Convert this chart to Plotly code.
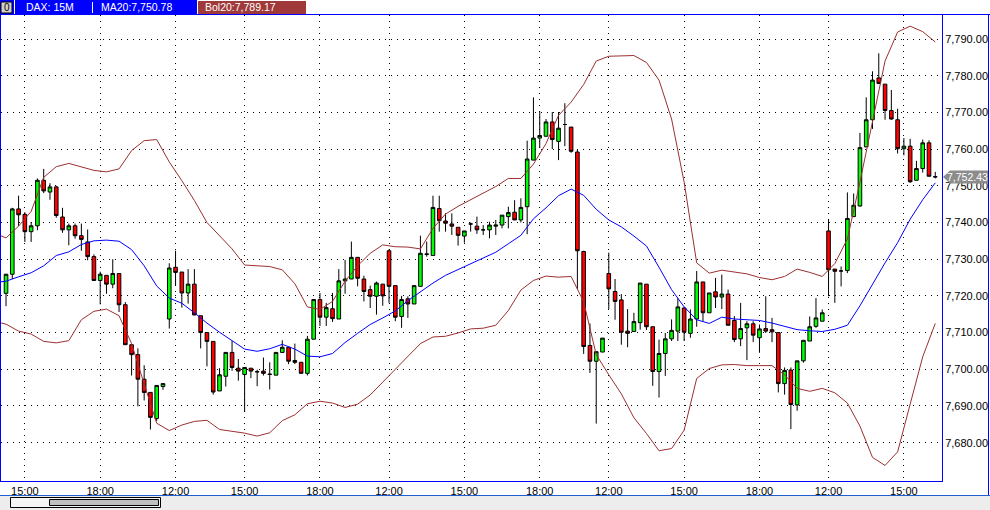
import plotly.graph_objects as go

# ---------------- data ----------------
bar_index = list(range(149))

opens = [7720.7, 7725.9, 7743.7, 7742.2, 7737.5, 7739.1, 7751.5, 7748.3, 7749.7, 7741.5,
         7738.0, 7739.1, 7736.4, 7734.7, 7730.7, 7724.2, 7725.6, 7723.2, 7726.1, 7717.6,
         7706.7, 7704.0, 7697.3, 7693.7, 7686.6, 7695.3, 7713.7, 7727.8, 7726.5, 7720.8,
         7723.2, 7714.6, 7710.0, 7707.6, 7694.1, 7698.1, 7704.6, 7700.3, 7698.6, 7700.3,
         7699.4, 7699.5, 7698.7, 7698.4, 7704.6, 7706.0, 7702.4, 7701.9, 7698.9, 7708.2,
         7719.0, 7714.2, 7716.5, 7713.7, 7724.1, 7724.6, 7730.5, 7724.6, 7721.7, 7719.9,
         7723.2, 7732.3, 7722.8, 7714.4, 7719.2, 7717.8, 7722.6, 7731.3, 7731.0, 7743.8,
         7740.4, 7739.6, 7738.7, 7736.3, 7739.6, 7739.0, 7738.0, 7738.0, 7739.0, 7739.3,
         7741.6, 7742.8, 7740.7, 7744.3, 7757.0, 7763.0, 7763.5, 7767.4, 7762.1, 7766.7,
         7766.0, 7759.2, 7732.1, 7706.5, 7702.2, 7704.7, 7726.1, 7721.2, 7718.9, 7710.4,
         7710.3, 7712.7, 7723.2, 7711.6, 7699.4, 7704.3, 7708.3, 7710.4, 7716.7, 7709.8,
         7713.7, 7723.8, 7715.4, 7721.1, 7719.7, 7720.5, 7713.3, 7708.3, 7711.3, 7712.4,
         7708.6, 7711.1, 7710.8, 7710.0, 7696.1, 7699.8, 7690.3, 7702.3, 7707.7, 7711.7,
         7713.1, 7737.7, 7727.3, 7726.8, 7726.9, 7741.6, 7744.5, 7760.6, 7768.0, 7779.4,
         7777.7, 7770.5, 7768.0, 7760.1, 7760.8, 7751.5, 7754.7, 7761.7, 7752.5]
highs = [7726.0, 7744.0, 7747.3, 7742.8, 7740.1, 7752.0, 7754.6, 7750.7, 7750.0, 7744.0,
         7739.7, 7739.7, 7739.7, 7738.1, 7731.3, 7726.6, 7725.6, 7730.0, 7726.1, 7718.3,
         7706.7, 7705.7, 7701.1, 7693.7, 7695.6, 7696.1, 7728.9, 7732.3, 7726.5, 7727.3,
         7727.3, 7714.6, 7710.0, 7707.6, 7700.3, 7704.6, 7707.7, 7702.8, 7700.5, 7700.3,
         7699.9, 7703.2, 7701.9, 7704.6, 7707.9, 7706.0, 7707.0, 7702.0, 7709.1, 7719.0,
         7720.8, 7718.1, 7720.8, 7727.3, 7729.8, 7734.8, 7730.5, 7725.5, 7722.8, 7723.9,
         7723.2, 7732.7, 7722.8, 7720.0, 7719.9, 7722.8, 7736.4, 7734.8, 7747.3, 7747.3,
         7742.5, 7742.5, 7738.7, 7737.7, 7740.0, 7741.6, 7739.3, 7740.2, 7740.7, 7742.0,
         7744.3, 7746.1, 7746.6, 7762.3, 7774.1, 7770.3, 7768.2, 7770.1, 7770.1, 7772.5,
         7766.0, 7759.9, 7732.3, 7712.5, 7704.8, 7708.5, 7731.8, 7724.6, 7720.5, 7716.4,
         7715.4, 7723.5, 7723.2, 7711.6, 7708.1, 7709.9, 7713.6, 7719.4, 7717.0, 7716.3,
         7726.8, 7723.8, 7720.8, 7724.9, 7725.8, 7721.7, 7714.5, 7718.1, 7713.1, 7713.1,
         7712.2, 7719.9, 7714.0, 7710.0, 7700.5, 7700.5, 7702.3, 7707.9, 7714.4, 7719.4,
         7716.3, 7740.8, 7727.3, 7728.0, 7748.2, 7747.9, 7764.4, 7774.1, 7781.2, 7786.1,
         7777.7, 7776.1, 7771.0, 7763.0, 7762.8, 7756.8, 7762.6, 7762.4, 7753.8]
lows = [7717.2, 7724.6, 7739.0, 7734.7, 7734.7, 7737.9, 7748.0, 7746.2, 7741.3, 7737.2,
        7733.8, 7735.6, 7732.3, 7729.7, 7724.2, 7717.7, 7720.6, 7722.1, 7715.6, 7706.7,
        7698.3, 7689.9, 7691.5, 7683.6, 7685.9, 7694.4, 7711.1, 7722.8, 7716.8, 7717.9,
        7714.8, 7705.7, 7700.8, 7693.1, 7694.1, 7695.3, 7699.6, 7696.9, 7688.4, 7697.6,
        7695.4, 7698.3, 7694.5, 7698.4, 7704.6, 7701.4, 7701.4, 7698.9, 7698.3, 7708.2,
        7711.8, 7711.8, 7712.9, 7713.7, 7720.6, 7724.6, 7722.6, 7718.5, 7716.7, 7714.9,
        7717.3, 7718.1, 7713.1, 7711.3, 7714.0, 7717.8, 7722.6, 7730.7, 7731.0, 7737.5,
        7737.5, 7736.6, 7733.7, 7734.5, 7737.5, 7736.9, 7736.6, 7735.7, 7736.6, 7738.4,
        7738.4, 7740.7, 7740.0, 7736.8, 7757.0, 7760.3, 7763.5, 7760.0, 7757.0, 7760.8,
        7759.0, 7721.9, 7704.2, 7699.0, 7685.2, 7704.7, 7716.4, 7713.5, 7706.7, 7706.0,
        7710.3, 7710.8, 7710.7, 7695.5, 7692.3, 7698.2, 7707.7, 7707.7, 7707.7, 7708.6,
        7711.6, 7713.1, 7715.4, 7716.7, 7716.4, 7712.0, 7707.4, 7706.3, 7702.5, 7707.4,
        7704.5, 7709.9, 7707.4, 7693.7, 7693.1, 7683.7, 7688.7, 7701.8, 7707.7, 7711.3,
        7713.1, 7719.9, 7718.1, 7722.6, 7726.2, 7741.6, 7744.3, 7760.6, 7765.5, 7777.7,
        7768.0, 7768.0, 7758.8, 7758.3, 7750.8, 7751.5, 7753.6, 7752.6, 7752.0]
closes = [7725.9, 7743.7, 7742.1, 7737.5, 7739.1, 7751.5, 7748.6, 7749.7, 7741.9, 7738.0,
          7739.1, 7736.4, 7735.4, 7730.7, 7724.2, 7725.9, 7723.2, 7726.1, 7717.6, 7706.7,
          7704.0, 7697.3, 7693.7, 7686.9, 7695.6, 7696.1, 7727.6, 7726.4, 7720.8, 7723.2,
          7714.8, 7710.0, 7707.6, 7693.8, 7698.5, 7704.6, 7700.5, 7699.5, 7700.5, 7699.5,
          7699.3, 7698.9, 7698.6, 7704.6, 7706.0, 7702.2, 7701.9, 7698.9, 7708.2, 7719.0,
          7714.2, 7716.8, 7713.8, 7724.1, 7724.6, 7730.5, 7724.8, 7721.2, 7719.9, 7723.5,
          7720.0, 7722.6, 7714.2, 7719.0, 7717.8, 7722.8, 7731.6, 7731.4, 7744.1, 7740.5,
          7739.8, 7739.0, 7736.5, 7737.7, 7739.6, 7738.0, 7738.0, 7739.3, 7739.3, 7742.0,
          7742.7, 7740.7, 7744.1, 7757.3, 7763.0, 7763.7, 7767.4, 7762.6, 7765.7, 7766.7,
          7759.4, 7732.3, 7706.2, 7702.2, 7704.8, 7708.5, 7721.9, 7718.5, 7710.1, 7709.8,
          7713.0, 7723.5, 7711.6, 7699.4, 7704.3, 7708.3, 7710.6, 7717.0, 7710.1, 7713.7,
          7723.8, 7715.4, 7720.8, 7719.7, 7720.5, 7712.0, 7708.1, 7711.1, 7712.4, 7709.3,
          7711.0, 7710.4, 7710.2, 7696.1, 7699.7, 7690.4, 7702.3, 7707.9, 7711.6, 7714.0,
          7715.4, 7727.1, 7726.7, 7726.8, 7741.1, 7744.7, 7760.4, 7768.0, 7778.8, 7777.9,
          7770.5, 7768.2, 7760.1, 7760.8, 7751.1, 7754.7, 7761.7, 7752.6, 7752.43]

# indicator lines, read at every second bar (plus the left edge)
band_index = [-1] + list(range(0, 149, 2))
ma20 = [7723.8, 7724.0, 7725.2, 7726.3, 7728.2, 7731.0, 7732.0, 7734.0, 7735.0, 7735.2,
        7734.9, 7732.6, 7728.2, 7722.7, 7719.4, 7718.0, 7715.4, 7712.6, 7710.1, 7707.8,
        7705.5, 7704.9, 7705.6, 7706.8, 7705.5, 7703.6, 7703.4, 7704.3, 7707.3, 7709.8,
        7712.2, 7714.0, 7715.9, 7718.7, 7721.1, 7723.5, 7725.6, 7727.2, 7728.8, 7730.3,
        7731.9, 7734.2, 7736.5, 7741.0, 7744.0, 7747.3, 7749.1, 7747.4, 7743.6, 7740.7,
        7738.8, 7736.3, 7733.6, 7727.8, 7721.7, 7717.0, 7713.5, 7712.5, 7714.2, 7713.7,
        7713.4, 7713.3, 7712.6, 7711.8, 7710.8, 7710.5, 7710.3, 7710.9, 7712.0, 7717.3,
        7723.3, 7729.0, 7734.5, 7740.9, 7746.2, 7750.8]
bol_upper = [7736.5, 7735.8, 7739.0, 7743.0, 7752.3, 7755.2, 7756.1, 7755.1, 7754.2, 7753.8,
             7754.6, 7759.6, 7762.3, 7762.6, 7756.5, 7751.4, 7746.0, 7740.0, 7736.4, 7732.8,
             7728.4, 7728.1, 7728.0, 7727.1, 7723.3, 7717.0, 7716.3, 7718.5, 7724.0, 7728.2,
             7731.6, 7733.9, 7733.4, 7733.3, 7732.8, 7738.4, 7742.3, 7744.4, 7746.2, 7748.1,
             7749.8, 7752.0, 7752.0, 7755.9, 7761.5, 7769.2, 7772.8, 7777.6, 7784.0, 7785.3,
             7785.4, 7785.5, 7783.6, 7778.8, 7768.2, 7751.0, 7729.0, 7726.2, 7727.0, 7726.5,
             7726.0, 7725.0, 7724.4, 7725.3, 7727.3, 7726.4, 7725.3, 7728.8, 7735.5, 7751.0,
             7768.0, 7784.0, 7791.9, 7793.5, 7792.0, 7789.2]
bol_lower = [7712.7, 7712.3, 7710.4, 7709.6, 7707.6, 7707.2, 7707.8, 7713.5, 7715.8, 7716.4,
             7714.6, 7707.0, 7696.0, 7685.3, 7683.3, 7684.8, 7685.8, 7686.1, 7683.6, 7683.2,
             7682.6, 7681.8, 7682.7, 7686.0, 7687.6, 7690.6, 7691.3, 7690.8, 7689.6, 7690.5,
             7693.0, 7696.5, 7700.0, 7703.5, 7707.0, 7708.8, 7709.0, 7709.9, 7711.0, 7711.2,
             7712.0, 7716.0, 7721.6, 7724.2, 7725.4, 7725.1, 7725.3, 7718.4, 7704.0, 7698.5,
             7693.3, 7686.8, 7682.5, 7677.8, 7678.4, 7683.4, 7697.5, 7700.2, 7701.2, 7701.3,
             7701.0, 7701.0, 7701.0, 7698.5, 7694.8, 7694.0, 7694.8, 7693.6, 7690.8, 7684.5,
             7676.0, 7673.8, 7677.5, 7690.5, 7703.4, 7712.5]

x_tick_index = [3, 15, 27, 38, 50, 61, 73, 85, 96, 108, 120, 131, 143]
x_tick_labels = ["15:00", "18:00", "12:00", "15:00", "18:00", "12:00", "15:00",
                 "18:00", "12:00", "15:00", "18:00", "12:00", "15:00"]
y_tick_values = [7680, 7690, 7700, 7710, 7720, 7730, 7740, 7750, 7760, 7770, 7780, 7790]

symbol_label = "DAX: 15M"
ma_label = "MA20:7,750.78"
bol_label = "Bol20:7,789.17"
last_price = 7752.43

# ---------------- layout geometry (pixels) ----------------
W, H = 990, 510
ML, MR, MT, MB = 1, 48, 15, 29
PW, PH = W - ML - MR, H - MT - MB


def px(x):
    return (x - ML) / PW


def py(y):
    return (H - MB - y) / PH


FONT = "Liberation Sans, Arial, sans-serif"
BLUE = "#0000ff"
BAND = "#9b3030"

fig = go.Figure()
fig.add_trace(go.Candlestick(
    x=bar_index, open=opens, high=highs, low=lows, close=closes,
    increasing=dict(line=dict(color="black", width=1), fillcolor="#00ff00"),
    decreasing=dict(line=dict(color="black", width=1), fillcolor="#ff0000"),
    whiskerwidth=0, hoverinfo="skip"))
fig.add_trace(go.Scatter(x=band_index, y=bol_upper, mode="lines",
                         line=dict(color=BAND, width=1), hoverinfo="skip"))
fig.add_trace(go.Scatter(x=band_index, y=bol_lower, mode="lines",
                         line=dict(color=BAND, width=1), hoverinfo="skip"))
fig.add_trace(go.Scatter(x=band_index, y=ma20, mode="lines",
                         line=dict(color=BLUE, width=1), hoverinfo="skip"))

shapes = []
# header strip
shapes.append(dict(type="rect", xref="paper", yref="paper", x0=px(0), x1=px(197), y0=py(14), y1=py(0),
                   fillcolor=BLUE, line=dict(width=0), layer="above"))
shapes.append(dict(type="rect", xref="paper", yref="paper", x0=px(198), x1=px(306), y0=py(14), y1=py(1),
                   fillcolor="#a03a3a", line=dict(width=0), layer="above"))
shapes.append(dict(type="rect", xref="paper", yref="paper", x0=px(1), x1=px(12), y0=py(13), y1=py(2),
                   fillcolor="#d4d0c8", line=dict(color="black", width=1), layer="above"))
shapes.append(dict(type="line", xref="paper", yref="paper", x0=px(14.5), x1=px(14.5), y0=py(14), y1=py(0),
                   line=dict(color="white", width=1), layer="above"))
shapes.append(dict(type="line", xref="paper", yref="paper", x0=px(92.5), x1=px(92.5), y0=py(13), y1=py(2),
                   line=dict(color="white", width=1), layer="above"))
# frame extensions
shapes.append(dict(type="line", xref="paper", yref="paper", x0=px(942), x1=px(990), y0=py(14.5), y1=py(14.5),
                   line=dict(color=BLUE, width=1), layer="above"))
shapes.append(dict(type="line", xref="paper", yref="paper", x0=px(988.5), x1=px(988.5), y0=py(495), y1=py(15),
                   line=dict(color=BLUE, width=1), layer="above"))
# bottom scroll area
shapes.append(dict(type="rect", xref="paper", yref="paper", x0=px(0), x1=px(990), y0=py(510), y1=py(496),
                   fillcolor="#ededed", line=dict(width=0), layer="above"))
shapes.append(dict(type="line", xref="paper", yref="paper", x0=px(0), x1=px(990), y0=py(495.5), y1=py(495.5),
                   line=dict(color="#1f5fd0", width=1), layer="above"))
shapes.append(dict(type="rect", xref="paper", yref="paper", x0=px(10.5), x1=px(160.5), y0=py(507.5), y1=py(497.5),
                   fillcolor="#f5f5f5", line=dict(color="black", width=1), layer="above"))
shapes.append(dict(type="rect", xref="paper", yref="paper", x0=px(49.5), x1=px(158.5), y0=py(505.5), y1=py(499.5),
                   fillcolor="#c0c0c0", line=dict(color="black", width=1), layer="above"))
# last price tag
half = 6.5 / 3.67
tag_path = (f"M {px(943)},{last_price} L {px(950)},{last_price + half} L {px(988)},{last_price + half} "
            f"L {px(988)},{last_price - half} L {px(950)},{last_price - half} Z")
shapes.append(dict(type="path", xref="paper", yref="y", path=tag_path,
                   fillcolor="#8c8c8c", line=dict(width=0), layer="above"))

annotations = [
    dict(text="0", xref="paper", yref="paper", x=px(6.5), y=py(7.5), showarrow=False,
         font=dict(family=FONT, size=10, color="black"), xanchor="center", yanchor="middle"),
    dict(text=symbol_label, xref="paper", yref="paper", x=px(24), y=py(7.5), showarrow=False,
         font=dict(family=FONT, size=10.5, color="white"), xanchor="left", yanchor="middle"),
    dict(text=ma_label, xref="paper", yref="paper", x=px(99), y=py(7.5), showarrow=False,
         font=dict(family=FONT, size=10.5, color="white"), xanchor="left", yanchor="middle"),
    dict(text=bol_label, xref="paper", yref="paper", x=px(203), y=py(7.5), showarrow=False,
         font=dict(family=FONT, size=10.5, color="white"), xanchor="left", yanchor="middle"),
    dict(text=f"{last_price:,.2f}", xref="paper", yref="y", x=px(968), y=last_price, showarrow=False,
         font=dict(family=FONT, size=10.5, color="white"), xanchor="center", yanchor="middle"),
]

fig.update_layout(
    width=W, height=H, margin=dict(l=ML, r=MR, t=MT, b=MB, pad=0),
    paper_bgcolor="white", plot_bgcolor="white", showlegend=False,
    boxgap=0.18, shapes=shapes, annotations=annotations,
    font=dict(family=FONT, size=11, color="black"),
    xaxis=dict(range=[-0.8, 149.07], tickmode="array", tickvals=x_tick_index, ticktext=x_tick_labels,
               showgrid=True, gridcolor="black", gridwidth=1, griddash="1px,5px",
               showline=True, linecolor=BLUE, linewidth=1, mirror=True, ticks="",
               zeroline=False, rangeslider=dict(visible=False), automargin=False,
               tickfont=dict(family=FONT, size=11, color="black")),
    yaxis=dict(side="right", range=[7669.56, 7796.54], tickmode="array", tickvals=y_tick_values,
               tickformat=",.2f", showgrid=True, gridcolor="black", gridwidth=1, griddash="1px,5px",
               showline=True, linecolor=BLUE, linewidth=1, mirror=True, ticks="",
               zeroline=False, automargin=False,
               tickfont=dict(family=FONT, size=11, color="black")),
)

fig.write_html("out.html", config={"displayModeBar": False},
               post_script="document.body.style.margin='0px';document.body.style.overflow='hidden';")
